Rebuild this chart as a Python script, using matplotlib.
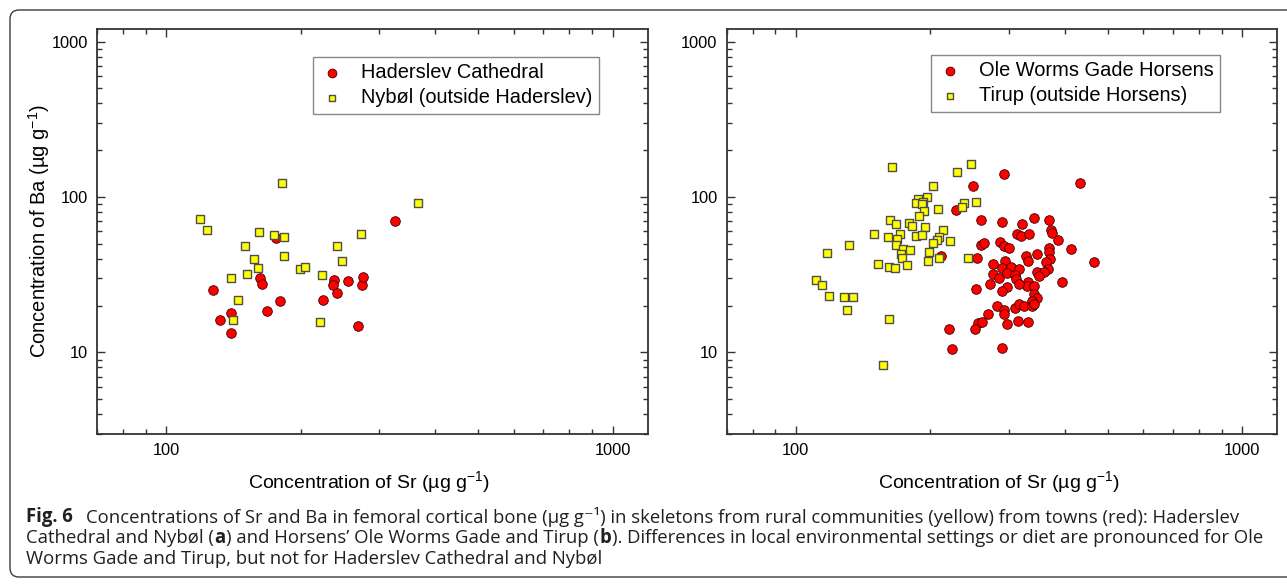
import matplotlib
matplotlib.use('Agg')
import matplotlib.pyplot as plt
from matplotlib.patches import FancyBboxPatch
from matplotlib.transforms import IdentityTransform
from matplotlib.ticker import FixedLocator, FixedFormatter, LogLocator, NullFormatter

plt.rcParams['font.family'] = ['Liberation Sans', 'DejaVu Sans']
plt.rcParams['mathtext.fontset'] = 'custom'
plt.rcParams['mathtext.rm'] = 'Liberation Sans'
plt.rcParams['mathtext.it'] = 'Liberation Sans:italic'
plt.rcParams['mathtext.bf'] = 'Liberation Sans:bold'

# (a) Haderslev Cathedral (town) and Nybøl (rural)
haderslev_sr = [127, 132, 140, 140, 162, 164, 168, 176, 180, 225, 237, 236, 241, 255,
                269, 275, 276, 326]
haderslev_ba = [25.2, 16.2, 18.0, 13.4, 30.3, 27.4, 18.5, 54.2, 21.5, 21.7, 29.4, 27.1,
                24.3, 28.8, 14.9, 27.0, 30.8, 69.7]
nybol_sr = [119, 123.5, 140, 150, 144.6, 141.3, 152, 157, 160.6, 161.3, 174, 182, 184,
            184, 199, 205, 223, 221, 241, 247, 273, 367]
nybol_ba = [72.2, 61.0, 30.3, 48.1, 21.9, 16.1, 32.1, 40.1, 35.1, 59.5, 56.6, 123, 55.5,
            41.9, 34.6, 35.4, 31.5, 15.8, 48.1, 38.5, 58.1, 91.0]

# (b) Ole Worms Gade, Horsens (town) and Tirup (rural)
olewormsgade_sr = [293, 434, 250, 228, 260, 289, 322, 342, 370, 374, 375, 386, 313, 319,
                   333, 413, 466, 287, 260, 264, 293, 300, 370, 369, 347, 328, 332, 255,
                   211, 276, 294, 372, 363, 290, 304, 317, 368, 347, 360, 351, 276, 285,
                   298, 310, 312, 331, 329, 341, 317, 394, 272, 298, 254, 290, 342, 347,
                   338, 283, 293, 293, 310, 317, 324, 338, 342, 270, 256, 262, 297, 315,
                   332, 220, 252, 224, 290]
olewormsgade_ba = [140, 123, 118, 82.1, 71.5, 69.4, 67.3, 72.9, 71.5, 61.0, 58.6, 53.1,
                   57.5, 55.8, 58.1, 46.3, 38.4, 51.1, 48.8, 50.8, 48.1, 46.7, 46.7, 44.1,
                   43.2, 41.5, 38.9, 40.5, 41.7, 37.2, 38.7, 39.7, 38.2, 35.1, 35.4, 34.4,
                   34.4, 33.1, 32.7, 31.2, 31.8, 30.2, 32.4, 31.5, 29.7, 28.2, 26.9, 26.9,
                   27.4, 28.2, 27.7, 26.3, 25.6, 24.8, 23.6, 22.5, 21.4, 20.0, 18.8, 17.7,
                   19.2, 20.6, 19.8, 19.8, 20.6, 17.7, 15.5, 15.6, 15.3, 15.9, 15.8, 14.1,
                   14.1, 10.5, 10.7]
tirup_sr = [164, 247, 230, 203, 197, 188, 186, 193, 192, 253, 238, 236, 194, 208, 189,
            163, 168, 179, 182.5, 194.5, 171, 214, 149.5, 161, 169, 186, 192, 209, 207,
            222, 203, 131.6, 168, 117.5, 174, 180, 199, 172, 173, 209, 243, 198, 152.6,
            177.6, 162, 167, 111, 114.6, 118.8, 128.2, 134.1, 130.4, 162, 157]
tirup_ba = [157, 162, 144, 118, 100, 96.6, 91.9, 92.4, 90.6, 93.3, 91.0, 86.2, 81.3,
            83.7, 75.1, 71.5, 67.0, 68.0, 65.4, 64.1, 58.1, 61.0, 57.5, 55.0, 53.7, 56.4,
            56.6, 55.0, 52.6, 52.3, 50.8, 49.3, 48.8, 43.6, 46.0, 45.6, 44.0, 42.8, 40.7,
            40.7, 40.7, 38.9, 37.2, 36.7, 35.3, 35.1, 29.4, 27.3, 23.2, 22.8, 22.9, 18.8,
            16.5, 8.3]

panels = [
    (haderslev_sr, haderslev_ba, 'Haderslev Cathedral',
     nybol_sr, nybol_ba, 'Nybøl (outside Haderslev)', (0.392, 0.932)),
    (olewormsgade_sr, olewormsgade_ba, 'Ole Worms Gade Horsens',
     tirup_sr, tirup_ba, 'Tirup (outside Horsens)', (0.371, 0.937)),
]

fig = plt.figure(figsize=(12.87, 5.86), dpi=100)
ax_a = fig.add_axes([0.0754, 0.2599, 0.4281, 0.6901])
ax_b = fig.add_axes([0.5646, 0.2599, 0.4280, 0.6901])

for ax, (town_sr, town_ba, town_lbl, rural_sr, rural_ba, rural_lbl, leg_pos) in zip(
        [ax_a, ax_b], panels):
    ax.scatter(town_sr, town_ba, s=48, marker='o', color='#ff0000',
               edgecolors='#3a0000', linewidths=0.6, label=town_lbl, zorder=3)
    ax.scatter(rural_sr, rural_ba, s=36, marker='s', color='#ffff00',
               edgecolors='#4d4d4d', linewidths=1.0, label=rural_lbl, zorder=4)
    ax.set_xscale('log')
    ax.set_yscale('log')
    ax.set_xlim(70, 1200)
    ax.set_ylim(3, 1200)
    ax.xaxis.set_major_locator(FixedLocator([100, 1000]))
    ax.xaxis.set_major_formatter(FixedFormatter(['100', '1000']))
    ax.yaxis.set_major_locator(FixedLocator([10, 100, 1000]))
    ax.yaxis.set_major_formatter(FixedFormatter(['10', '100', '1000']))
    for axis in (ax.xaxis, ax.yaxis):
        axis.set_minor_locator(LogLocator(base=10, subs=range(2, 10), numticks=20))
        axis.set_minor_formatter(NullFormatter())
    ax.tick_params(which='both', direction='in', top=True, right=True,
                   color='#333333', width=1.0, labelsize=11.8, labelcolor='black')
    ax.tick_params(which='major', length=6, pad=6.5)
    ax.tick_params(which='minor', length=3.5)
    for sp in ax.spines.values():
        sp.set_color('#333333')
        sp.set_linewidth(1.3)
    leg = ax.legend(loc='upper left', bbox_to_anchor=leg_pos, fontsize=14.4,
                    fancybox=False, edgecolor='#888888', framealpha=1,
                    handletextpad=0.85, labelspacing=0.28, borderpad=0.33,
                    handlelength=1.2, borderaxespad=0)
    leg.get_frame().set_linewidth(1.0)
    leg.legend_handles[0].set_sizes([40])
    leg.legend_handles[1].set_sizes([24])

xlabel = 'Concentration of Sr (µg g$^{-1}$)'
fig.text(0.2865, 0.178, xlabel, fontsize=14, ha='center', va='center')
fig.text(0.7765, 0.178, xlabel, fontsize=14, ha='center', va='center')
fig.text(0.030, 0.605, 'Concentration of Ba (µg g$^{-1}$)', fontsize=14.5,
         rotation=90, ha='center', va='center')

# caption, drawn as runs so the bold parts sit inline
cap_font = ['Open Sans', 'DejaVu Sans']
renderer = fig.canvas.get_renderer()

line1 = [
    ('Fig. 6', 'bold', 0),
    ('Concentrations of Sr and Ba in femoral cortical bone (μg g⁻¹) in skeletons '
     'from rural communities (yellow) from towns (red): Haderslev', 'normal', 13),
]
line2 = [
    ('Cathedral and Nybøl (', 'normal', 0),
    ('a', 'bold', 0.5),
    (') and Horsens’ Ole Worms Gade and Tirup (', 'normal', 0.5),
    ('b', 'bold', 0.5),
    ('). Differences in local environmental settings or diet are pronounced for Ole',
     'normal', 0.5),
]
line3 = [
    ('Worms Gade and Tirup, but not for Haderslev Cathedral and Nybøl', 'normal', 0),
]


def caption_line(y_px, runs, size, x_px=26, draw=True):
    for text, weight, gap in runs:
        x_px += gap
        t = fig.text(x_px / 1287, 1 - y_px / 586, text, fontsize=size,
                     fontweight=weight, family=cap_font, va='center', ha='left',
                     color='#231f20')
        x_px = t.get_window_extent(renderer).x1
        if not draw:
            t.remove()
    return x_px


# size the caption so the longest line runs to the right margin
probe_end = max(caption_line(517, line1, 10, draw=False),
                caption_line(538, line2, 10, draw=False))
cap_size = 10 * (1262 - 26) / (probe_end - 26)

caption_line(517, line1, cap_size)
caption_line(538, line2, cap_size)
caption_line(559, line3, cap_size)

# rounded frame around the whole figure, open past the right edge
frame = FancyBboxPatch((10, 586 - 577), 1320, 567,
                       boxstyle='round,pad=0,rounding_size=9',
                       transform=IdentityTransform(), fill=False,
                       edgecolor='#3c3c3c', linewidth=1.0)
fig.add_artist(frame)

fig.savefig('out.png', dpi=100)
